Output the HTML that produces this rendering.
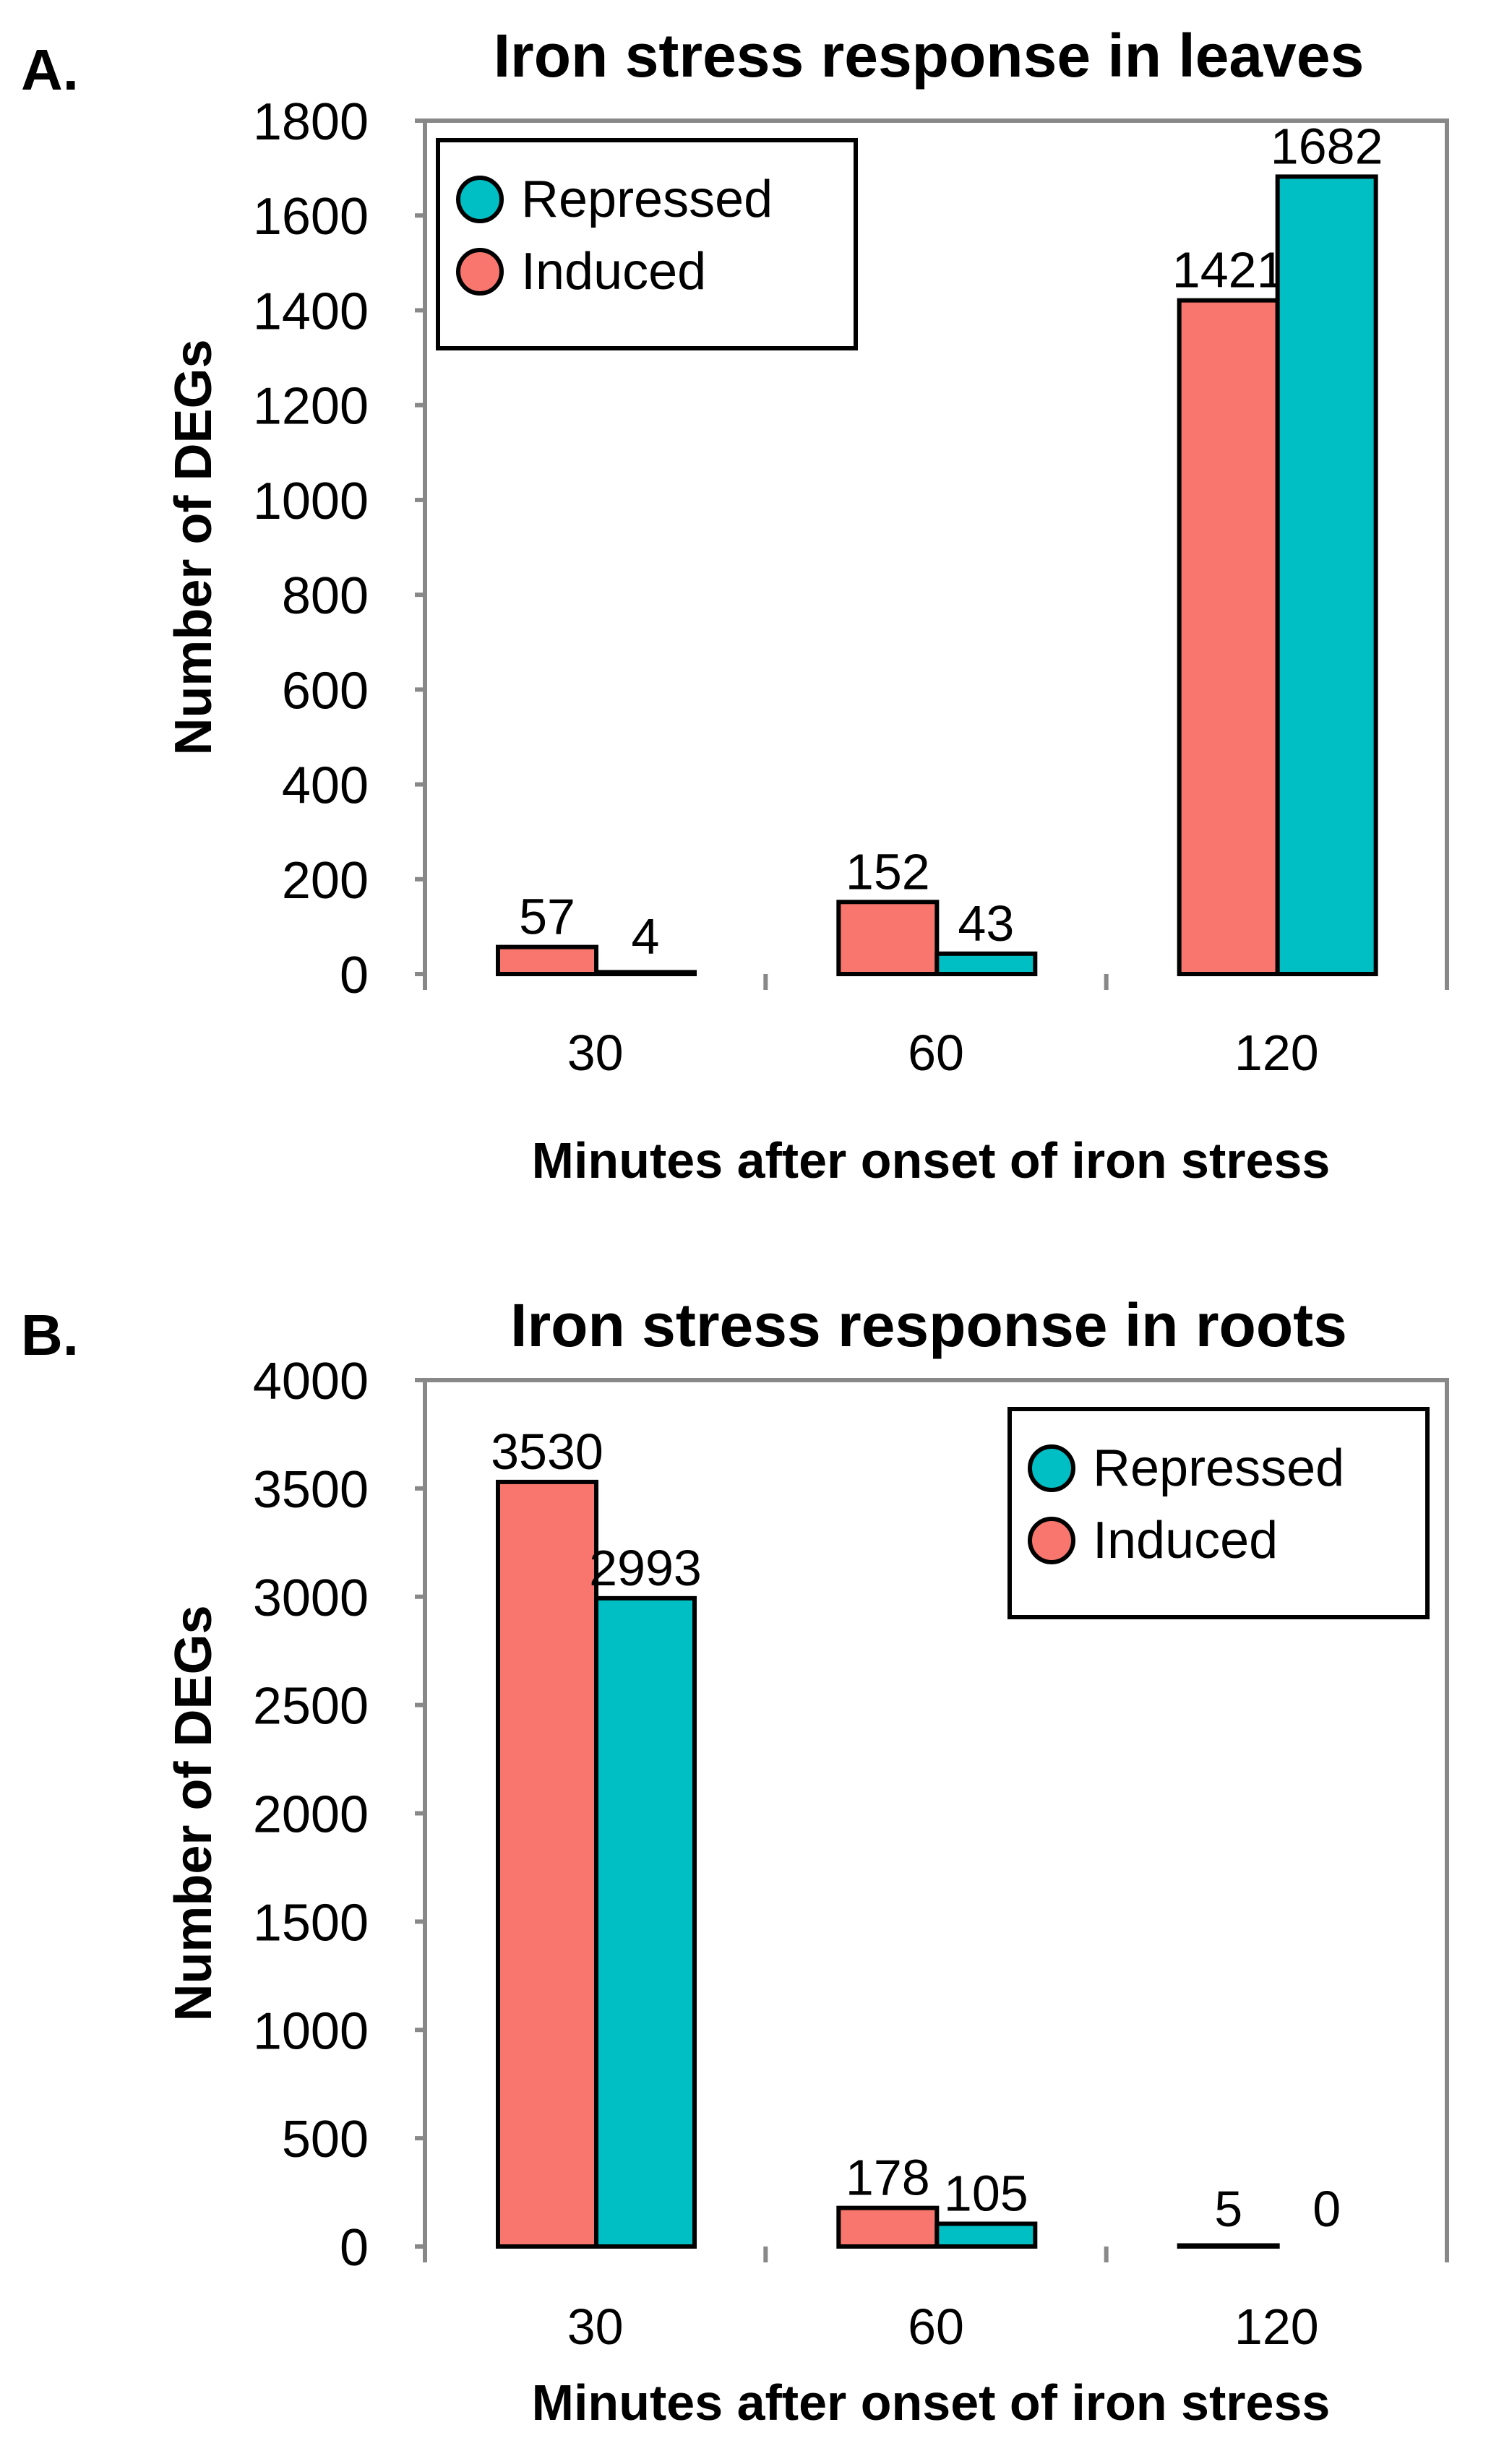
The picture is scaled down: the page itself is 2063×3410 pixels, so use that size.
<!DOCTYPE html>
<html><head><meta charset="utf-8"><style>
html,body{margin:0;padding:0;background:#fff;}
svg{display:block;font-family:"Liberation Sans",sans-serif;}
</style></head><body>
<svg id="fig" width="2063" height="3410" viewBox="0 0 2063 3410" xmlns="http://www.w3.org/2000/svg">
<rect width="2063" height="3410" fill="#fff"/>
</svg>
<script>
const categories = ["30","60","120"];
const leavesInduced = [57,152,1421];
const leavesRepressed = [4,43,1682];
const leavesTicks = [0,200,400,600,800,1000,1200,1400,1600,1800];
const rootsInduced = [3530,178,5];
const rootsRepressed = [2993,105,0];
const rootsTicks = [0,500,1000,1500,2000,2500,3000,3500,4000];

const NS="http://www.w3.org/2000/svg";
const svg=document.getElementById('fig');
function mk(tag,attrs,parent,text){const e=document.createElementNS(NS,tag);for(const k in attrs)e.setAttribute(k,attrs[k]);if(text!==undefined)e.textContent=text;(parent||svg).appendChild(e);return e;}

function chart(o){
  const g=mk('g',{});
  
  
  const L=588,R=2002,T=o.top,B=o.bottom;
  const ymax=o.ticks[o.ticks.length-1];
  const y=v=>B-(v/ymax)*(B-T);
  const gw=(R-L)/o.cats.length;
  const x=i=>L+i*gw;
  let t=mk('text',{x:29,y:o.letterY,'font-size':80,'font-weight':'bold'},g,o.letter);
  
  
  t=mk('text',{x:1285,y:o.titleY,'font-size':84,'font-weight':'bold','text-anchor':'middle'},g,o.title);
  
  
  let f=mk('polyline',{points:`${L},${B} ${L},${T} ${R},${T} ${R},${B}`,fill:'none',stroke:'#888',"stroke-width":6},g);
  
  
  o.ticks.forEach(v=>{
    let tk=mk('line',{x1:L-14,x2:L,y1:y(v),y2:y(v),stroke:'#888','stroke-width':6},g);
    
    
    let tl=mk('text',{x:L-78,y:y(v)+26,'font-size':72,'text-anchor':'end'},g,String(v));
    
    
  });
  for(let i=0;i<=o.cats.length;i++){
    let tk=mk('line',{x1:x(i),x2:x(i),y1:B,y2:B+22,stroke:'#888','stroke-width':6},g);
    
    
  }
  const bw=136,off=101;
  o.cats.forEach((c,i)=>{
    const xs=[x(i)+off,x(i)+off+bw];
    [[o.ind,'#F8766D','induced'],[o.rep,'#00BFC4','repressed']].forEach((s,k)=>{
      const v=s[0][i];
      const top=y(v);
      if(v>0){
        let r=mk('rect',{x:xs[k],y:top,width:bw,height:Math.max(B-top,1),fill:s[1],stroke:'#000','stroke-width':6},g);
        
        
      }
      let lb=mk('text',{x:xs[k]+bw/2,y:Math.min(top,B-10)-18,'font-size':70,'text-anchor':'middle'},g,String(v));
      
      
    });
    let xl=mk('text',{x:x(i)+gw/2,y:o.xlab,'font-size':70,'text-anchor':'middle'},g,c);
    
    
  });
  t=mk('text',{x:1288,y:o.xtitle,'font-size':70,'font-weight':'bold','text-anchor':'middle'},g,'Minutes after onset of iron stress');
  
  
  const yc=(T+B)/2;
  t=mk('text',{x:292,y:yc,'font-size':72,'font-weight':'bold','text-anchor':'middle',transform:`rotate(-90 292 ${yc})`},g,'Number of DEGs');
  
  
  const lg=mk('g',{},g);
  
  
  mk('rect',{x:o.lx,y:o.ly,width:578,height:288,fill:'#fff',stroke:'#000','stroke-width':6},lg);
  [['Repressed','#00BFC4',82],['Induced','#F8766D',182]].forEach(e=>{
    let c=mk('circle',{cx:o.lx+58,cy:o.ly+e[2],r:30,fill:e[1],stroke:'#000','stroke-width':6},lg);
    
    
    let tx=mk('text',{x:o.lx+115,y:o.ly+e[2]+24,'font-size':72},lg,e[0]);
    
    
  });
}
chart({name:'leaves-chart',letter:'A.',letterY:124,title:'Iron stress response in leaves',titleY:106,top:167,bottom:1348,ticks:leavesTicks,cats:categories,ind:leavesInduced,rep:leavesRepressed,xlab:1481,xtitle:1630,lx:606,ly:194});
chart({name:'roots-chart',letter:'B.',letterY:1875,title:'Iron stress response in roots',titleY:1863,top:1910,bottom:3109,ticks:rootsTicks,cats:categories,ind:rootsInduced,rep:rootsRepressed,xlab:3244,xtitle:3349,lx:1397,ly:1950});
</script>
</body></html>
